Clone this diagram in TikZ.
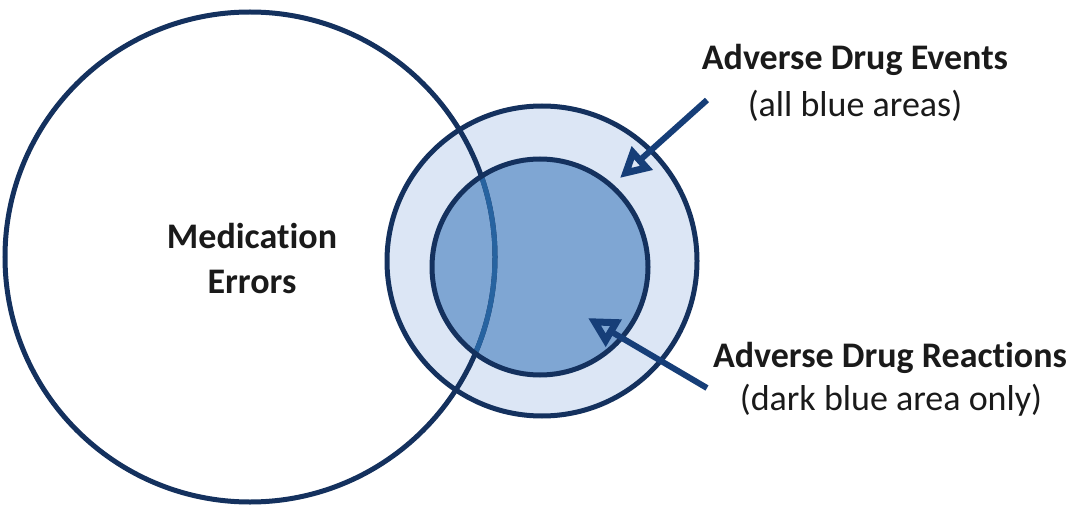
\documentclass[tikz,border=0pt]{standalone}
\usepackage{fontspec}
\setmainfont[RawFeature={-liga;-calt;-dlig}]{Carlito}
\usetikzlibrary{arrows.meta}
\definecolor{navy}{HTML}{14315E}
\definecolor{ringfill}{HTML}{DCE6F5}
\definecolor{corefill}{HTML}{7FA6D3}
\definecolor{midline}{HTML}{2763A0}
\definecolor{arrowblue}{HTML}{163E78}
\definecolor{txt}{HTML}{1A1A1A}
\tikzset{
  outline/.style={draw=navy, line width=5pt},
  pointer/.style={draw=arrowblue, line width=6pt, -{Triangle[open,length=30pt,width=30pt,line width=7pt]}},
  headtxt/.style={font=\fontsize{36}{45}\selectfont\bfseries, text=txt, anchor=base, inner sep=0pt},
  subtxt/.style={font=\fontsize{36}{45}\selectfont, text=txt, anchor=base, inner sep=0pt},
}
\begin{document}
\begin{tikzpicture}[x=1pt,y=-1pt]
\useasboundingbox (0,0) rectangle (1076,505);
\coordinate (big) at (250,257);
\coordinate (ring) at (542,261);
\coordinate (core) at (540,267);
% fills
\fill[ringfill] (ring) circle[radius=155pt];
\fill[corefill] (core) circle[radius=108pt];
% medication errors circle
\draw[outline] (big) circle[radius=245pt];
\begin{scope}
  \clip (core) circle[radius=106pt];
  \draw[draw=midline, line width=5pt] (big) circle[radius=245pt];
\end{scope}
% ring outlines
\draw[outline] (ring) circle[radius=155pt];
\draw[outline] (core) circle[radius=108pt];
% labels
\node[headtxt] (me1) at (252,248) {Medication};
\node[headtxt] (me2) at (252,293) {Errors};
\node[headtxt] (ade1) at (855,70) {Adverse Drug Events};
\node[subtxt] (ade2) at (855,117) {(all blue areas)};
\node[headtxt] (adr1) at (890,367) {Adverse Drug Reactions};
\node[subtxt] (adr2) at (891,410) {(dark blue area only)};
% arrows
\coordinate (a1s) at (707,100);
\coordinate (a1e) at (620,178);
\coordinate (a2s) at (707,388);
\coordinate (a2e) at (588,318);
\draw[pointer] (a1s) -- (a1e);
\draw[pointer] (a2s) -- (a2e);
\end{tikzpicture}
\end{document}
